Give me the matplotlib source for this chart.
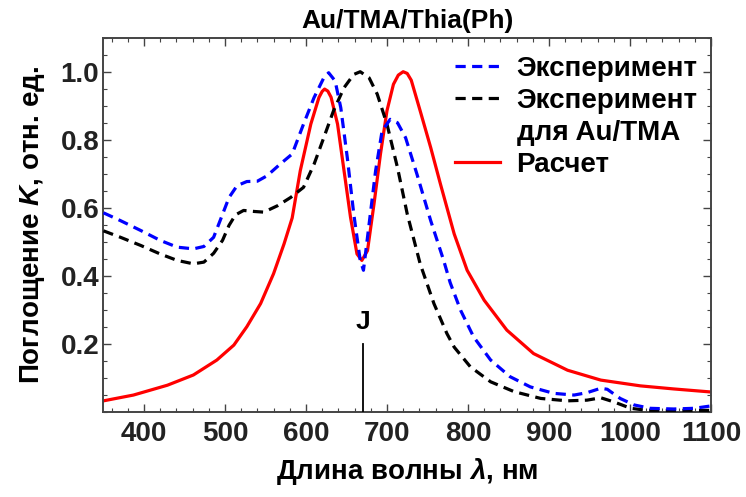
import matplotlib
matplotlib.use("Agg")
import matplotlib.pyplot as plt
from matplotlib.lines import Line2D
from matplotlib.ticker import MultipleLocator

FAMILY = ["Liberation Sans", "DejaVu Sans"]
plt.rcParams["font.family"] = FAMILY
plt.rcParams["font.weight"] = "bold"
plt.rcParams["mathtext.fontset"] = "custom"
plt.rcParams["mathtext.it"] = "Liberation Sans:italic:bold"
plt.rcParams["mathtext.rm"] = "Liberation Sans:bold"

# experiment, Au/TMA/Thia(Ph)
exp_wl = [350, 371, 396, 420, 441, 461, 474, 486, 494, 505, 515, 527, 540, 552,
          568, 583, 597, 610, 622, 628, 636, 643, 651, 659, 667, 671, 677, 686,
          694, 704, 713, 723, 737, 754, 770, 778, 791, 807, 828, 852, 877, 906,
          931, 947, 964, 972, 988, 1005, 1025, 1054, 1079, 1100]
exp_k = [0.585, 0.562, 0.533, 0.504, 0.484, 0.479, 0.486, 0.513, 0.562, 0.63,
         0.665, 0.677, 0.678, 0.694, 0.728, 0.758, 0.846, 0.924, 0.982, 0.997,
         0.973, 0.894, 0.748, 0.582, 0.445, 0.416, 0.533, 0.709, 0.826, 0.86,
         0.85, 0.806, 0.699, 0.562, 0.445, 0.38, 0.298, 0.22, 0.152, 0.103,
         0.073, 0.054, 0.049, 0.056, 0.069, 0.066, 0.039, 0.02, 0.01, 0.008,
         0.01, 0.017]

# experiment, Au/TMA only
tma_wl = [350, 371, 396, 420, 441, 461, 474, 486, 497, 505, 513, 523, 536, 548,
          565, 581, 597, 610, 622, 634, 647, 659, 667, 678, 688, 700, 713, 725,
          741, 758, 774, 783, 803, 828, 857, 890, 923, 947, 964, 980, 1001,
          1021, 1054, 1100]
tma_k = [0.532, 0.513, 0.489, 0.464, 0.445, 0.435, 0.44, 0.466, 0.504, 0.548,
         0.579, 0.592, 0.589, 0.587, 0.606, 0.63, 0.66, 0.728, 0.806, 0.885,
         0.953, 0.992, 1.0, 0.982, 0.934, 0.846, 0.718, 0.582, 0.435, 0.318,
         0.23, 0.19, 0.132, 0.088, 0.059, 0.039, 0.032, 0.034, 0.041, 0.029,
         0.01, 0.004, 0.004, 0.004]

# calculation
calc_wl = [350, 387, 429, 461, 490, 511, 527, 544, 560, 573, 583, 593, 606, 616,
           620, 623, 627, 631, 639, 647, 655, 663, 669, 676, 684, 692, 700, 708,
           714, 720, 725, 730, 741, 754, 766, 783, 799, 820, 848, 881, 923, 964,
           1013, 1054, 1100]
calc_k = [0.032, 0.049, 0.078, 0.108, 0.152, 0.196, 0.25, 0.318, 0.406, 0.494,
          0.57, 0.709, 0.846, 0.924, 0.942, 0.949, 0.943, 0.925, 0.846, 0.709,
          0.572, 0.464, 0.445, 0.474, 0.611, 0.758, 0.885, 0.963, 0.99, 1.0,
          0.995, 0.975, 0.885, 0.777, 0.67, 0.523, 0.416, 0.328, 0.24, 0.171,
          0.122, 0.093, 0.076, 0.067, 0.058]

j_band = 670
j_top = 0.2

fig = plt.figure(figsize=(7.46, 4.97), dpi=100)
ax = fig.add_axes([0.1387, 0.1716, 0.8143, 0.7525])

ax.plot(calc_wl, calc_k, color="#ff0000", lw=2.3, zorder=2)
ax.plot(tma_wl, tma_k, color="black", lw=2.3, dashes=(3.2, 2), zorder=3)
ax.plot(exp_wl, exp_k, color="#0000ff", lw=2.3, dashes=(3.2, 2), zorder=4)

ax.plot([j_band, j_band], [0, j_top], color="black", lw=1.3, zorder=5)
ax.text(j_band, j_top + 0.064, "J", ha="center", va="center", fontsize=19,
        fontweight="bold")

ax.set_xlim(350, 1100)
ax.set_ylim(0, 1.1)
ax.xaxis.set_major_locator(MultipleLocator(100))
ax.xaxis.set_minor_locator(MultipleLocator(20))
ax.yaxis.set_minor_locator(MultipleLocator(0.05))
ax.set_yticks([0.2, 0.4, 0.6, 0.8, 1.0])
ax.set_yticklabels(["0.2", "0.4", "0.6", "0.8", "1.0"])
ax.tick_params(which="both", direction="in", top=True, right=True,
               colors="#444444", labelcolor="#222222", labelsize=20)
ax.tick_params(which="major", length=6, width=1)
ax.tick_params(which="minor", length=3, width=0.8)
ax.tick_params(axis="x", pad=7)
ax.tick_params(axis="y", pad=3)
for sp in ax.spines.values():
    sp.set_color("#444444")
    sp.set_linewidth(1.4)

ax.set_title("Au/TMA/Thia(Ph)", fontsize=19, fontweight="bold", pad=7)
ax.set_xlabel(r"Длина волны $\lambda$, нм", fontsize=20, fontweight="bold",
              labelpad=6)
ax.set_ylabel(r"Поглощение $K$, отн. ед.", fontsize=20, fontweight="bold",
              labelpad=10)

handles = [
    Line2D([], [], color="#0000ff", lw=2.3, dashes=(3.2, 2)),
    Line2D([], [], color="black", lw=2.3, dashes=(3.2, 2)),
    Line2D([], [], color="none"),
    Line2D([], [], color="#ff0000", lw=2.3),
]
labels = ["Эксперимент", "Эксперимент", "для Au/TMA", "Расчет"]
ax.legend(handles, labels, loc="upper right", bbox_to_anchor=(0.978, 0.952),
          frameon=False, fontsize=20, handlelength=1.6, handletextpad=0.6,
          labelspacing=0.22, borderaxespad=0, borderpad=0)

fig.savefig("out.png", dpi=100)
